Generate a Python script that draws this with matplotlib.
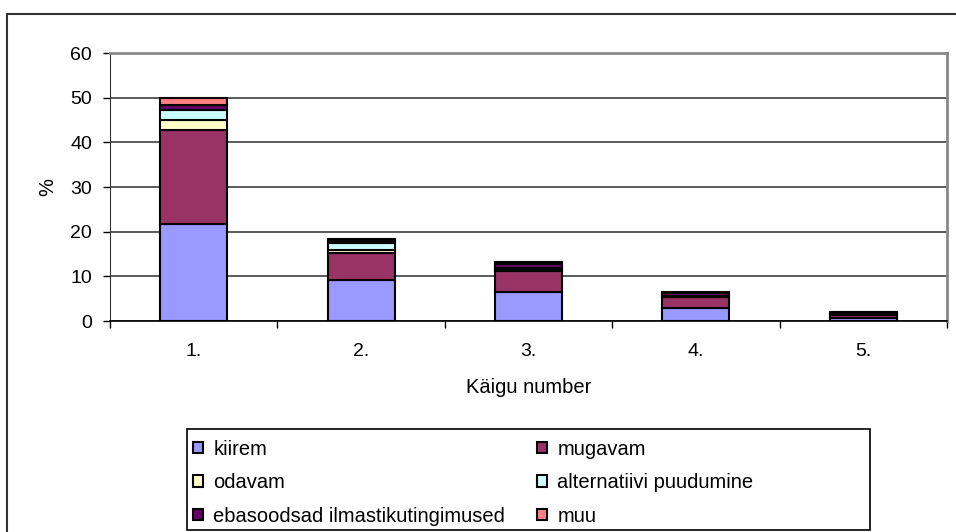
import numpy as np
import matplotlib.pyplot as plt
from matplotlib.patches import Rectangle

plt.rcParams['font.family'] = ['Liberation Sans', 'DejaVu Sans']

categories = ['1.', '2.', '3.', '4.', '5.']
labels = ['kiirem', 'mugavam', 'odavam', 'alternatiivi puudumine',
          'ebasoodsad ilmastikutingimused', 'muu']
kiirem = [21.7, 9.2, 6.6, 2.8, 0.6]
mugavam = [21.0, 6.0, 4.7, 2.5, 0.8]
odavam = [2.3, 0.7, 0.2, 0.1, 0.1]
alternatiivi = [2.3, 1.5, 0.3, 0.3, 0.2]
ebasoodsad = [1.1, 0.6, 1.0, 0.5, 0.3]
muu = [1.5, 0.3, 0.3, 0.2, 0.1]
colors = ['#9999FF', '#993366', '#FFFFCC', '#CCFFFF', '#660066', '#FF8080']

series = [kiirem, mugavam, odavam, alternatiivi, ebasoodsad, muu]

W, H = 956, 532
fig = plt.figure(figsize=(W / 100, H / 100), dpi=100)
ax = fig.add_axes([110 / W, 1 - 321 / H, (947 - 110) / W, (321 - 53) / H])

# outer chart frame (runs past the right/bottom edge like in the screenshot)
fig.patches.append(Rectangle((7 / W, -0.1), 1.2, 1 - 14 / H + 0.1, transform=fig.transFigure,
                             fill=False, edgecolor='#333333', linewidth=1.5))

x = np.arange(len(categories))
bottom = np.zeros(len(categories))
handles = []
for vals, col, lab in zip(series, colors, labels):
    b = ax.bar(x, vals, 0.4, bottom=bottom, color=col, edgecolor='black',
               linewidth=1.5, label=lab, zorder=3)
    handles.append(b)
    bottom += np.array(vals)

ax.set_xlim(-0.5, 4.5)
ax.set_ylim(0, 60)
ax.set_yticks(range(0, 61, 10))
ax.yaxis.grid(True, color='#404040', linewidth=1.2, zorder=0)
ax.set_xticks(x)
ax.set_xticklabels(categories)
ax.set_xticks(np.arange(-0.5, 5, 1), minor=True)
ax.tick_params(axis='x', which='major', length=0, pad=16, labelsize=14)
ax.tick_params(axis='x', which='minor', length=5, width=1, direction='out')
ax.tick_params(axis='y', length=5, width=1, direction='out', pad=8, labelsize=14)

ax.spines['top'].set_color('#888888')
ax.spines['right'].set_color('#888888')
ax.spines['top'].set_linewidth(2)
ax.spines['right'].set_linewidth(2)
ax.spines['left'].set_color('#333333')
ax.spines['bottom'].set_color('black')
ax.spines['bottom'].set_linewidth(1.2)

ax.set_xlabel('Käigu number', fontsize=14.5, labelpad=12.8)
ax.set_ylabel('%', fontsize=14.5, labelpad=9)

# legend box
fig.patches.append(Rectangle((187 / W, 1 - 530 / H), (870 - 187) / W, (530 - 429) / H,
                             transform=fig.transFigure, fill=False,
                             edgecolor='black', linewidth=1.2))
order = [0, 2, 4, 1, 3, 5]
leg = fig.legend([handles[i] for i in order], [labels[i] for i in order],
                 ncol=2, frameon=False, fontsize=14.5,
                 loc='upper left', bbox_to_anchor=(190 / W, 1 - 436.7 / H),
                 borderaxespad=0, borderpad=0.15,
                 handlelength=0.5, handleheight=0.5, handletextpad=0.5,
                 labelspacing=0.72, columnspacing=1.6)

plt.savefig('out.png', dpi=100)
